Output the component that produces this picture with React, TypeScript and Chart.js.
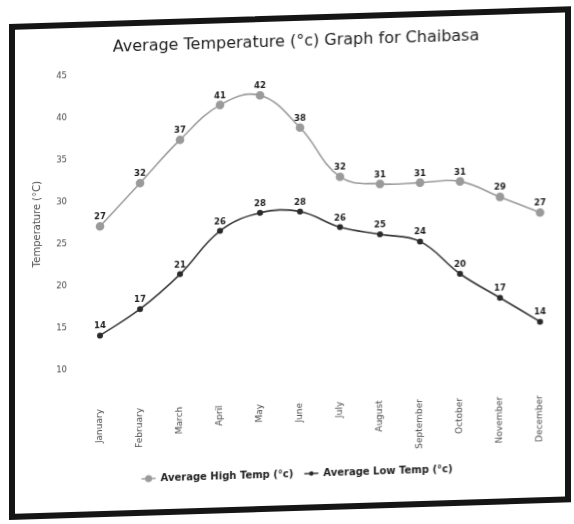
import { useEffect, useRef } from "react";
import { Chart, registerables } from "chart.js";

Chart.register(...registerables);

const months = [
  "January", "February", "March", "April", "May", "June",
  "July", "August", "September", "October", "November", "December",
];
const highTemps = [27, 32, 37, 41, 42, 38, 32, 31, 31, 31, 29, 27];
const lowTemps = [14, 17, 21, 26, 28, 28, 26, 25, 24, 20, 17, 14];
const yTickValues = [10, 15, 20, 25, 30, 35, 40, 45];
const titleText = "Average Temperature (°c) Graph for Chaibasa";
const yAxisTitle = "Temperature (°C)";
const seriesNames = ["Average High Temp (°c)", "Average Low Temp (°c)"];

const FONT = "'DejaVu Sans', sans-serif";

const titlePlugin = {
  id: "customTitle",
  afterDraw(chart: any) {
    const ctx = chart.ctx;
    ctx.save();
    ctx.font = `16px ${FONT}`;
    ctx.fillStyle = "#1c1c1c";
    ctx.textAlign = "center";
    ctx.textBaseline = "middle";
    ctx.fillText(titleText, 281, 21);
    ctx.restore();
  },
};

const dataLabelPlugin = {
  id: "dataLabels",
  afterDatasetsDraw(chart: any) {
    const ctx = chart.ctx;
    ctx.save();
    ctx.font = `bold 8.5px ${FONT}`;
    ctx.fillStyle = "#1e1e1e";
    ctx.textAlign = "center";
    ctx.textBaseline = "bottom";
    chart.data.datasets.forEach((ds: any, i: number) => {
      const meta = chart.getDatasetMeta(i);
      meta.data.forEach((pt: any, j: number) => {
        ctx.fillText(String(ds.data[j]), pt.x, pt.y - 5);
      });
    });
    ctx.restore();
  },
};

const legendPlugin = {
  id: "customLegend",
  afterDraw(chart: any) {
    const ctx = chart.ctx;
    ctx.save();
    ctx.font = `bold 10px ${FONT}`;
    ctx.textBaseline = "middle";
    ctx.textAlign = "left";
    const markerW = 14;
    const gapAfterMarker = 5;
    const gapBetween = 11;
    const widths = chart.data.datasets.map((ds: any) => ctx.measureText(ds.label).width);
    const total =
      widths.reduce((a: number, b: number) => a + b, 0) +
      chart.data.datasets.length * (markerW + gapAfterMarker) +
      gapBetween * (chart.data.datasets.length - 1);
    let x = 282 - total / 2;
    const y = 453;
    chart.data.datasets.forEach((ds: any, i: number) => {
      ctx.strokeStyle = ds.borderColor;
      ctx.lineWidth = 1.5;
      ctx.beginPath();
      ctx.moveTo(x, y);
      ctx.lineTo(x + markerW, y);
      ctx.stroke();
      ctx.fillStyle = ds.pointBackgroundColor;
      ctx.beginPath();
      ctx.arc(x + markerW / 2, y, ds.pointRadius, 0, Math.PI * 2);
      ctx.fill();
      x += markerW + gapAfterMarker;
      ctx.fillStyle = "#1e1e1e";
      ctx.fillText(ds.label, x, y + 0.5);
      x += widths[i] + gapBetween;
    });
    ctx.restore();
  },
};

export default function App() {
  const canvasRef = useRef<HTMLCanvasElement | null>(null);

  useEffect(() => {
    if (!canvasRef.current) return;
    const chart = new Chart(canvasRef.current, {
      type: "line",
      data: {
        labels: months,
        datasets: [
          {
            label: seriesNames[0],
            data: highTemps,
            borderColor: "#9c9c9c",
            backgroundColor: "#9c9c9c",
            pointBackgroundColor: "#9a9a9a",
            pointBorderColor: "#9a9a9a",
            pointRadius: 3.5,
            borderWidth: 1.6,
            tension: 0.4,
          },
          {
            label: seriesNames[1],
            data: lowTemps,
            borderColor: "#3a3a3a",
            backgroundColor: "#3a3a3a",
            pointBackgroundColor: "#2a2a2a",
            pointBorderColor: "#2a2a2a",
            pointRadius: 2.2,
            borderWidth: 1.6,
            tension: 0.4,
          },
        ],
      },
      options: {
        responsive: false,
        animation: false,
        layout: { padding: { left: 0, right: 25, top: 48, bottom: 0 } },
        plugins: {
          legend: { display: false },
          tooltip: { enabled: false },
          title: { display: false },
        },
        scales: {
          x: {
            grid: { display: false, drawTicks: false },
            border: { display: false },
            ticks: {
              color: "#4a4a4a",
              font: { family: FONT, size: 9 },
              minRotation: 90,
              maxRotation: 90,
              padding: 40,
              autoSkip: false,
            },
            afterFit: (s: any) => {
              s.height = 142;
              s.paddingLeft = 0;
              s.paddingRight = 0;
            },
          },
          y: {
            min: 10,
            max: 45,
            grid: { display: false, drawTicks: false },
            border: { display: false },
            afterBuildTicks: (s: any) => {
              s.ticks = yTickValues.map((v) => ({ value: v }));
            },
            ticks: {
              color: "#4a4a4a",
              font: { family: FONT, size: 8.5 },
              padding: 33,
            },
            title: {
              display: true,
              text: yAxisTitle,
              color: "#4a4a4a",
              font: { family: FONT, size: 10 },
              padding: { top: 16, bottom: 0 },
            },
            afterFit: (s: any) => {
              s.width = 85;
            },
          },
        },
      },
      plugins: [dataLabelPlugin, legendPlugin, titlePlugin],
    });
    return () => chart.destroy();
  }, []);

  return (
    <div
      style={{
        position: "absolute",
        left: 9,
        top: 24,
        width: 550,
        height: 484,
        border: "6px solid #151515",
        background: "#fff",
        transform: "skewY(-1.8deg)",
        transformOrigin: "0 0",
      }}
    >
      <canvas ref={canvasRef} width={550} height={484} style={{ display: "block" }} />
    </div>
  );
}
